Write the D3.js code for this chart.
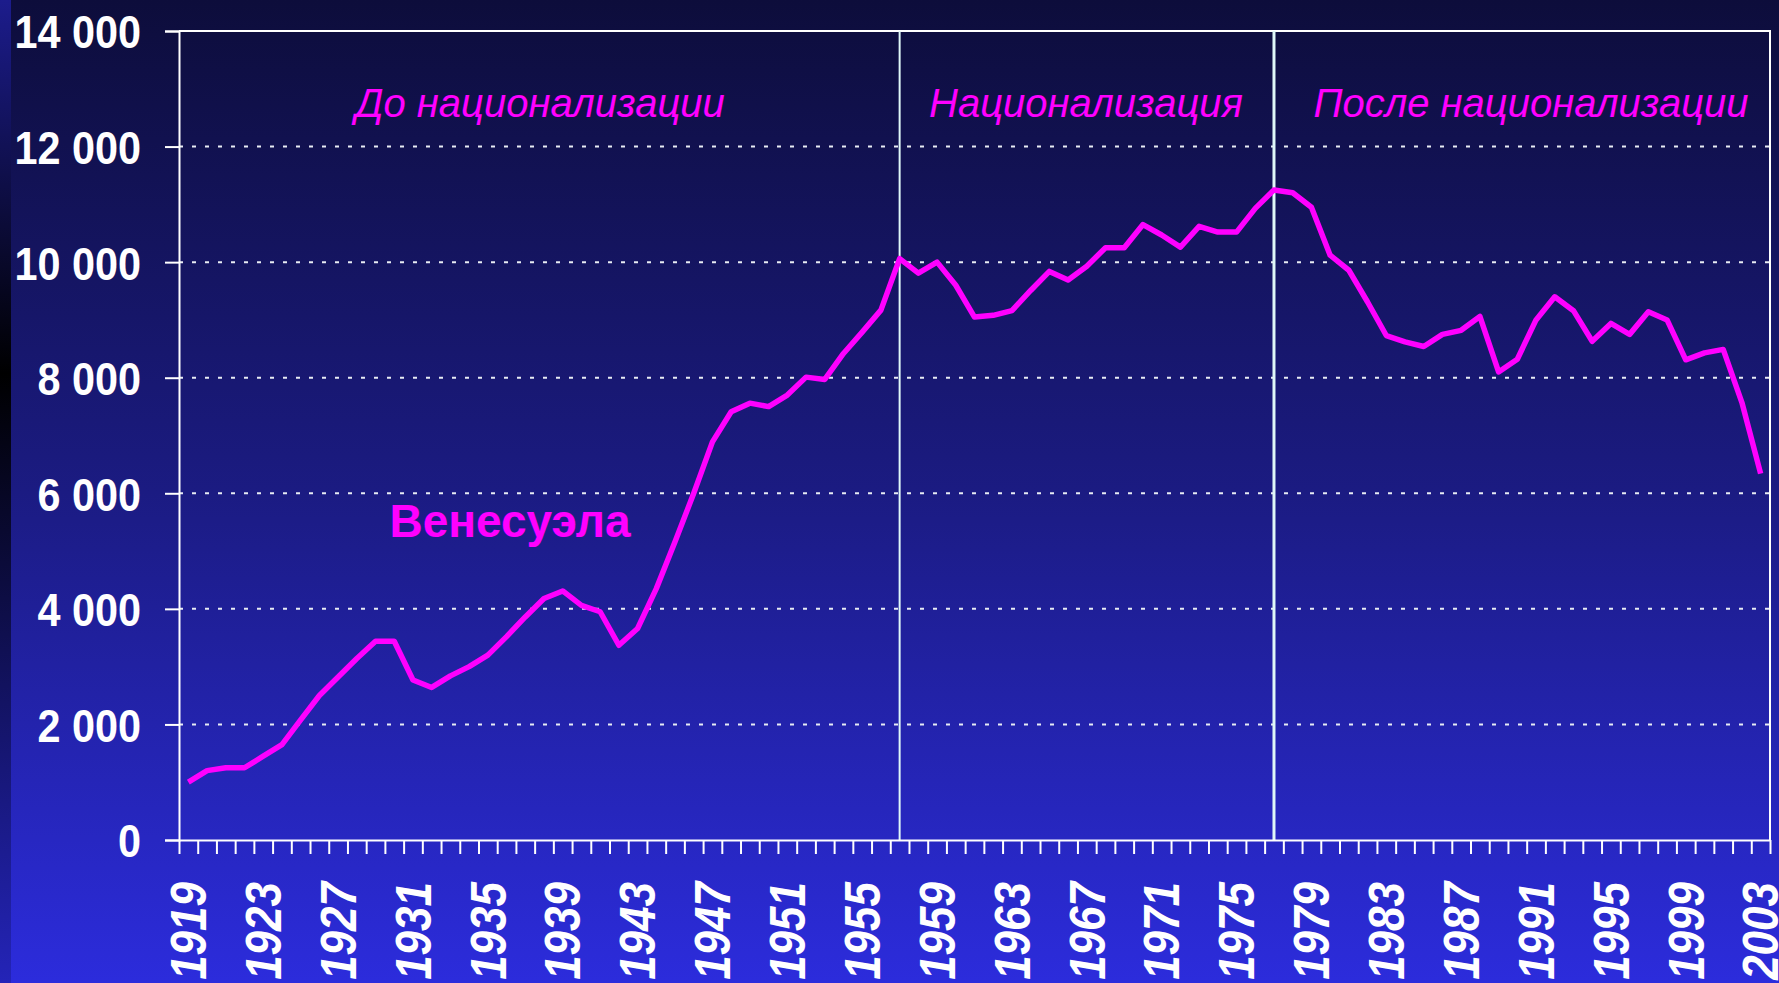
<!DOCTYPE html>
<html>
<head>
<meta charset="utf-8">
<script src="https://cdn.jsdelivr.net/npm/d3@7"></script>
<style>
  body { margin: 0; background: #0d0d3b; }
  svg { display: block; }
</style>
</head>
<body>
<div class="chart"></div>
<script>
const years = d3.range(1919, 2004);

// Венесуэла, 1919..2003
const venezuela = [
  1000, 1200, 1250, 1250, 1450, 1650, 2080, 2500, 2820, 3140,
  3440, 3440, 2770, 2640, 2840, 3000, 3200, 3520, 3860, 4180,
  4310, 4060, 3950, 3370, 3660, 4350, 5160, 6000, 6890, 7410,
  7560, 7500, 7700, 8010, 7970, 8420, 8790, 9170, 10060, 9810,
  10000, 9600, 9050, 9080, 9160, 9510, 9840, 9690, 9930, 10250,
  10250, 10650, 10470, 10260, 10620, 10520, 10520, 10930, 11250, 11200,
  10950, 10120, 9860, 9310, 8730, 8620, 8540, 8750, 8820, 9060,
  8100, 8320, 9000, 9400, 9160, 8630, 8940, 8750, 9140, 9000,
  8310, 8430, 8490, 7570, 6340
];

const yTicks = [0, 2000, 4000, 6000, 8000, 10000, 12000, 14000];
const labelYears = d3.range(1919, 2004, 4);
const markerYears = [1957, 1977];

const periods = [
  { text: 'До национализации', from: 1919, to: 1957 },
  { text: 'Национализация', from: 1957, to: 1977 },
  { text: 'После национализации', from: 1977, to: 2003 }
];

const width = 1779, height = 983;
const margin = { left: 179, right: 9, top: 31, bottom: 143 };

const svg = d3.select('.chart').append('svg')
  .attr('width', width)
  .attr('height', height);

const defs = svg.append('defs');
const bg = defs.append('linearGradient')
  .attr('id', 'bg').attr('x1', 0).attr('y1', 0).attr('x2', 0).attr('y2', 1);
bg.append('stop').attr('offset', '0%').attr('stop-color', '#0d0d3b');
bg.append('stop').attr('offset', '50%').attr('stop-color', '#1b1b82');
bg.append('stop').attr('offset', '100%').attr('stop-color', '#2c2cdc');

const strip = defs.append('linearGradient')
  .attr('id', 'strip').attr('x1', 0).attr('y1', 0).attr('x2', 0).attr('y2', 1);
strip.append('stop').attr('offset', '0%').attr('stop-color', '#1c1c8c');
strip.append('stop').attr('offset', '38%').attr('stop-color', '#000000');
strip.append('stop').attr('offset', '75%').attr('stop-color', '#15156e');
strip.append('stop').attr('offset', '100%').attr('stop-color', '#2424b8');

svg.append('rect').attr('width', width).attr('height', height).attr('fill', 'url(#bg)');
svg.append('rect').attr('width', 11).attr('height', height).attr('fill', 'url(#strip)');

const x = d3.scaleBand()
  .domain(years)
  .range([margin.left, width - margin.right])
  .padding(0);

const xEdge = d3.scaleLinear()
  .domain([1919, 2004])
  .range([margin.left, width - margin.right]);

const y = d3.scaleLinear()
  .domain([0, 14000])
  .range([height - margin.bottom, margin.top]);

const cx = d => x(d) + x.bandwidth() / 2;

// gridlines
svg.append('g')
  .selectAll('line')
  .data(yTicks.filter(d => d > 0 && d < 14000))
  .enter()
  .append('line')
  .attr('x1', margin.left)
  .attr('x2', width - margin.right)
  .attr('y1', d => y(d))
  .attr('y2', d => y(d))
  .attr('stroke', '#e8ecf4')
  .attr('stroke-width', 2)
  .attr('stroke-dasharray', '4,9');

// frame top / right
svg.append('path')
  .attr('d', `M${margin.left},${y(14000)}H${width - margin.right}V${y(0)}`)
  .attr('fill', 'none')
  .attr('stroke', '#ffffff')
  .attr('stroke-width', 2);

// period separators
svg.append('g')
  .selectAll('line')
  .data(markerYears)
  .enter()
  .append('line')
  .attr('x1', d => cx(d))
  .attr('x2', d => cx(d))
  .attr('y1', y(14000))
  .attr('y2', y(0))
  .attr('stroke', '#dff8f8')
  .attr('stroke-width', (d, i) => i == 0 ? 2 : 3);

// y axis
const ySx = 0.88;
const yAxis = svg.append('g')
  .attr('transform', `translate(${margin.left},0)`)
  .call(d3.axisLeft(y)
    .tickValues(yTicks)
    .tickSize(14)
    .tickPadding(24)
    .tickFormat(d => d3.format(',')(d).replace(',', ' ')));
yAxis.selectAll('line, path').attr('stroke', '#ffffff').attr('stroke-width', 2);
yAxis.selectAll('text')
  .attr('fill', '#ffffff')
  .attr('font-family', 'Liberation Sans, Arial, sans-serif')
  .attr('font-weight', 'bold')
  .attr('font-size', '47px')
  .attr('x', -38 / ySx)
  .attr('transform', `scale(${ySx},1)`)
  .attr('dy', '0.36em');

// x axis (ticks between categories)
const xAxis = svg.append('g')
  .attr('transform', `translate(0,${y(0)})`)
  .call(d3.axisBottom(xEdge)
    .tickValues(d3.range(1919, 2005))
    .tickSize(14)
    .tickSizeOuter(0)
    .tickFormat(''));
xAxis.selectAll('line, path').attr('stroke', '#ffffff').attr('stroke-width', 2);

svg.append('g')
  .selectAll('text')
  .data(labelYears)
  .enter()
  .append('text')
  .text(d => d)
  .attr('transform', d => `translate(${cx(d)},882) rotate(-90) scale(1,1.12)`)
  .attr('text-anchor', 'end')
  .attr('dy', '0.36em')
  .attr('font-family', 'Liberation Sans, Arial, sans-serif')
  .attr('font-weight', 'bold')
  .attr('font-style', 'italic')
  .attr('font-size', '44px')
  .attr('fill', '#ffffff');

// line
const line = d3.line()
  .x((d, i) => cx(years[i]))
  .y(d => y(d));

svg.append('path')
  .datum(venezuela)
  .attr('d', line)
  .attr('fill', 'none')
  .attr('stroke', '#ff00ff')
  .attr('stroke-width', 5.5)
  .attr('stroke-linejoin', 'round');

// period titles
svg.append('g')
  .selectAll('text')
  .data(periods)
  .enter()
  .append('text')
  .text(d => d.text)
  .attr('x', (d, i) => [540, 1086, 1531][i])
  .attr('y', 117)
  .attr('text-anchor', 'middle')
  .attr('font-family', 'Liberation Sans, Arial, sans-serif')
  .attr('font-style', 'italic')
  .attr('font-size', '40px')
  .attr('fill', '#ff00ff');

svg.append('text')
  .text('Венесуэла')
  .attr('x', 510)
  .attr('y', 537)
  .attr('text-anchor', 'middle')
  .attr('font-family', 'Liberation Sans, Arial, sans-serif')
  .attr('font-weight', 'bold')
  .attr('font-size', '46px')
  .attr('fill', '#ff00ff');
</script>
</body>
</html>
